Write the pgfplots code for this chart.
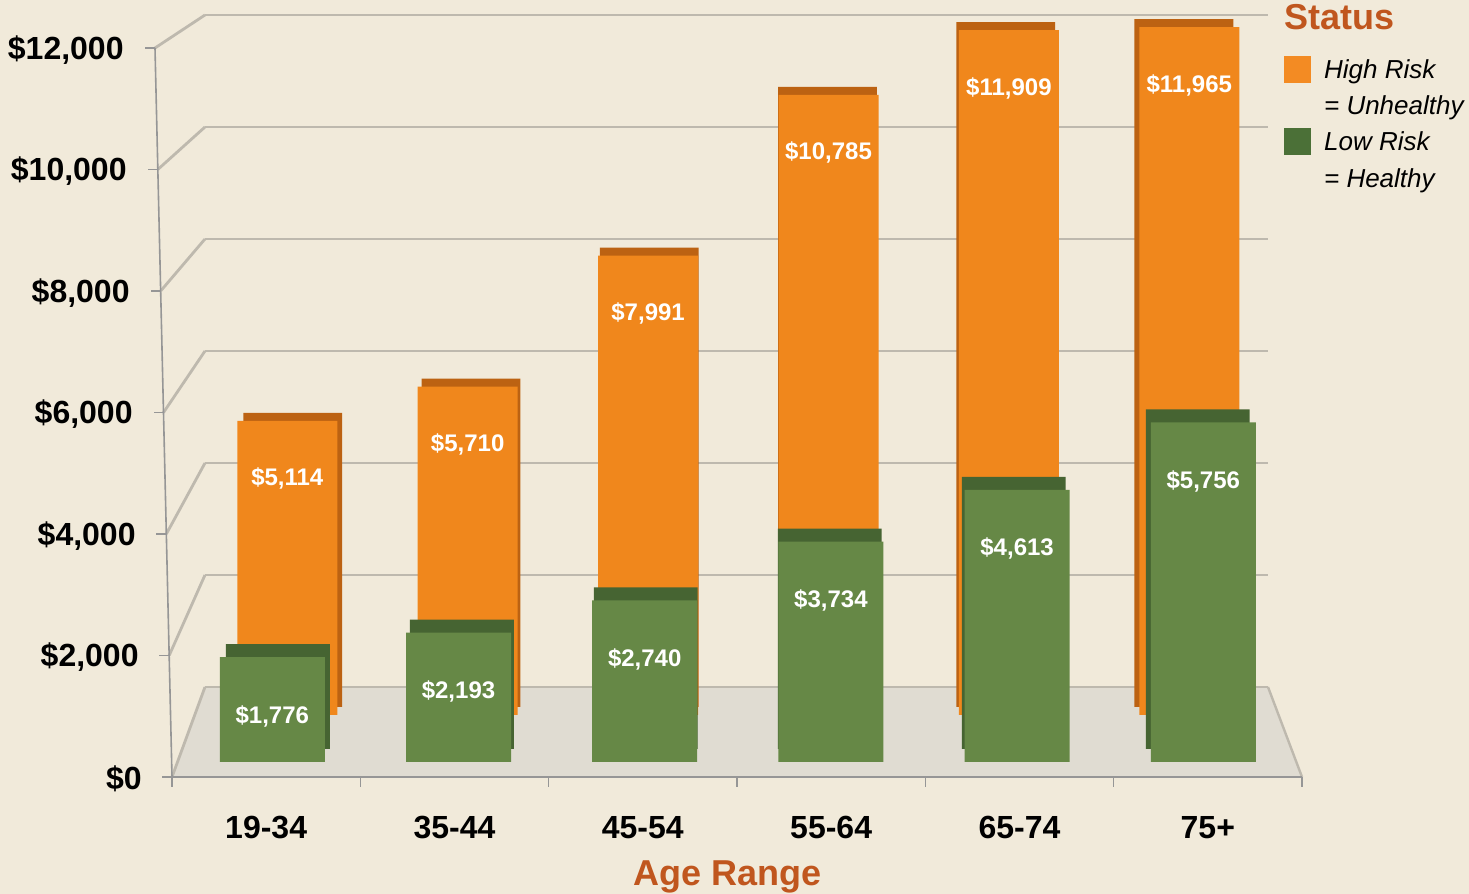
\documentclass[border=0pt]{standalone}
\usepackage{pgfplots}
\pgfplotsset{compat=1.18}
\usepackage{pgfplotstable}
\usepackage{fontspec}
\setmainfont{Liberation Sans}
\definecolor{bg}{RGB}{241,234,218}
\definecolor{orF}{RGB}{240,135,28}
\definecolor{orD}{RGB}{188,98,18}
\definecolor{grF}{RGB}{102,136,70}
\definecolor{grD}{RGB}{70,100,50}
\definecolor{legG}{RGB}{75,112,55}
\definecolor{legO}{RGB}{243,139,35}
\definecolor{gridc}{RGB}{190,185,174}
\definecolor{floorc}{RGB}{224,220,210}
\definecolor{axisc}{RGB}{150,150,150}
\definecolor{titlec}{RGB}{192,86,30}

\pgfplotstableread{
x orange green
0 5114 1776
1 5710 2193
2 7991 2740
3 10785 3734
4 11909 4613
5 11965 5756
}\datatable

\pgfplotsset{
  barbase/.style={scale only axis, anchor=south west, ybar, xmin=-0.5, xmax=5.5,
    ymin=0, ymax=12000, hide axis, clip=false},
  vallabels/.style={nodes near coords={\$\pgfmathprintnumber{\pgfplotspointmeta}},
    /pgf/number format/assume math mode=true,
    /pgf/number format/1000 sep={,},
    every node near coord/.append style={font=\fontsize{12}{14}\selectfont\bfseries,
      text=white, anchor=center, yshift=#1}},
}

\begin{document}
\begin{tikzpicture}
\clip (0,0) rectangle (734.5pt,447pt);
\fill[bg] (0,0) rectangle (734.5pt,447pt);
% floor
\fill[floorc] (86pt,58.5pt) -- (651pt,58.5pt) -- (634pt,103.5pt) -- (102.5pt,103.5pt) -- cycle;
\draw[gridc, line width=1.2pt] (651pt,58.5pt) -- (634pt,103.5pt);
\foreach \k in {0,...,6}{
  \draw[gridc, line width=1.4pt] ({86pt-1.4167pt*\k},{58.5pt+60.75pt*\k}) -- (102.5pt,{103.5pt+56pt*\k});
}
% back wall grid
\begin{axis}[at={(102.5pt,103.5pt)}, anchor=south west, scale only axis,
  width=531.5pt, height=336pt, xmin=0, xmax=1, ymin=0, ymax=12000,
  ytick={0,2000,...,12000}, xtick=\empty, yticklabels={}, scaled y ticks=false,
  ymajorgrids, grid style={gridc, line width=1.4pt},
  axis line style={draw=none}, major tick length=0pt]
\end{axis}
% orange (back row) shadow and front
\begin{axis}[barbase, at={(101.8pt,93.5pt)}, width=534.7pt, height=345pt, bar width=49.4pt]
\addplot[fill=orD, draw=none] table[x=x, y=orange]{\datatable};
\end{axis}
\begin{axis}[barbase, at={(98.55pt,89.5pt)}, width=541.2pt, height=345pt, bar width=50pt, vallabels=-29pt]
\addplot[fill=orF, draw=none] table[x=x, y=orange]{\datatable};
\end{axis}
% green (front row) shadow and front
\begin{axis}[barbase, at={(92.95pt,72.5pt)}, width=551.9pt, height=354pt, bar width=51.9pt]
\addplot[fill=grD, draw=none] table[x=x, y=green]{\datatable};
\end{axis}
\begin{axis}[barbase, at={(89.6pt,66pt)}, width=558.6pt, height=354pt, bar width=52.5pt, vallabels=-29.5pt]
\addplot[fill=grF, draw=none] table[x=x, y=green]{\datatable};
\end{axis}
% slanted front y axis line and its ticks
\draw[axisc, line width=0.8pt] (86pt,58.5pt) -- (77.5pt,423pt);
\foreach \k in {0,...,6}{
  \draw[axisc, line width=0.8pt] ({86pt-1.4167pt*\k},{58.5pt+60.75pt*\k}) -- ++(-5pt,0);
}
% frame axis
\begin{axis}[at={(86pt,58.5pt)}, anchor=south west, scale only axis,
  width=565pt, height=364.5pt, xmin=-0.5, xmax=5.5, ymin=0, ymax=12000, clip=false,
  axis x line*=bottom, axis y line*=left, scaled y ticks=false,
  x axis line style={draw=axisc, line width=0.8pt},
  y axis line style={draw=none},
  tick style={draw=axisc, line width=0.8pt},
  ytick style={draw=none},
  tick align=outside, major tick length=5pt, minor tick length=5pt,
  xtick={0,...,5}, xticklabels={19-34,35-44,45-54,55-64,65-74,75+},
  minor xtick={-0.5,0.5,...,5.5}, major x tick style={draw=none},
  ytick={0,2000,...,12000},
  yticklabels={{\$0},{\$2,000},{\$4,000},{\$6,000},{\$8,000},{\$10,000},{\$12,000}},
  tick label style={font=\fontsize{16}{19}\selectfont\bfseries, text=black, inner sep=0pt},
  xticklabel style={anchor=base, yshift=-26pt},
  yticklabel style={anchor=east, xshift={-10pt-1.5pt*\ticknum}, yshift=-1pt},
  xlabel={Age Range},
  xlabel style={at={(axis description cs:0.4912,0)}, anchor=base, yshift=-54.3pt,
    font=\fontsize{18}{20}\selectfont\bfseries, text=titlec},
  legend style={at={(axis description cs:0.984,0.990)}, anchor=north west,
    draw=none, fill=none, inner sep=0pt, row sep=5pt, column sep=6.5pt,
    font=\fontsize{13}{15}\selectfont\itshape,
    nodes={inner sep=0pt, text height=11pt, text depth=2pt}},
  legend cell align=left]
\addlegendimage{legend image code/.code={\fill[legO] (0pt,-6.5pt) rectangle (13pt,6.5pt);}}
\addlegendentry{High Risk}
\addlegendimage{empty legend}
\addlegendentry{= Unhealthy}
\addlegendimage{legend image code/.code={\fill[legG] (0pt,-6.5pt) rectangle (13pt,6.5pt);}}
\addlegendentry{Low Risk}
\addlegendimage{empty legend}
\addlegendentry{= Healthy}
\end{axis}
\node[anchor=base west, inner sep=0pt, font=\fontsize{18}{20}\selectfont\bfseries, text=titlec]
  at (642pt,432pt) {Status};
\end{tikzpicture}
\end{document}
